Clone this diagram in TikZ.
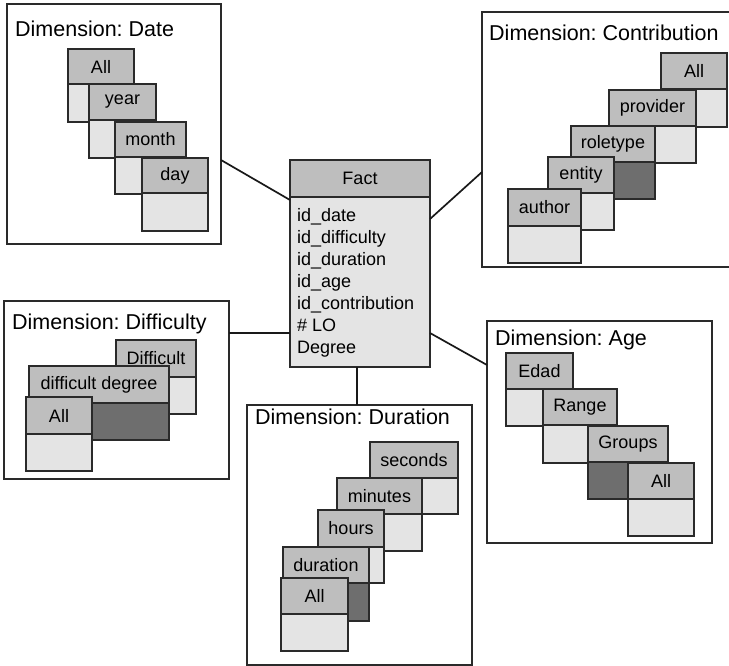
\documentclass[tikz,border=0pt]{standalone}
\usepackage{fontspec}
\setmainfont{Liberation Sans}
\usetikzlibrary{calc}
\frenchspacing
\definecolor{hdrgray}{HTML}{BEBEBE}
\definecolor{lightfill}{HTML}{E4E4E4}
\definecolor{darkfill}{HTML}{6E6E6E}
\definecolor{edgecol}{HTML}{2A2A2A}
\tikzset{
  hdrbox/.style={draw=edgecol, line width=1.2pt, fill=hdrgray, anchor=north west,
    inner sep=0pt, outer sep=0pt, font=\fontsize{18}{20}\selectfont},
  lightbody/.style={draw=edgecol, line width=1.2pt, fill=lightfill, anchor=north west,
    inner sep=0pt, outer sep=0pt},
  darkbody/.style={draw=edgecol, line width=1.2pt, fill=darkfill, anchor=north west,
    inner sep=0pt, outer sep=0pt},
  framebox/.style={draw=edgecol, line width=1.3pt, fill=white, anchor=north west,
    inner sep=0pt, outer sep=0pt},
  dimtitle/.style={anchor=base west, inner sep=0pt, font=\fontsize{21.5}{24}\selectfont},
  factline/.style={anchor=base west, inner sep=0pt, font=\fontsize{18}{20}\selectfont},
  connector/.style={draw=black!90, line width=1.7pt}
}
% #1 name, #2 x, #3 y, #4 width, #5 header height, #6 body height, #7 label, #8 body style
\newcommand{\dimtable}[8]{%
  \node[hdrbox, minimum width=#4pt, minimum height=#5pt] (#1) at (#2,#3) {#7};
  \node[#8, minimum width=#4pt, minimum height=#6pt] (#1b) at (#1.south west) {};}
\begin{document}
\begin{tikzpicture}[x=1pt, y=-1pt]
\useasboundingbox (0,0) rectangle (729,666);

% ---------- Frames ----------
\node[framebox, minimum width=214pt, minimum height=240pt] (dateF) at (7,4) {};
\node[framebox, minimum width=260pt, minimum height=255pt] (contF) at (482,12) {};
\node[framebox, minimum width=225pt, minimum height=178pt] (diffF) at (4,301) {};
\node[framebox, minimum width=225pt, minimum height=260pt] (durF) at (247,405) {};
\node[framebox, minimum width=225pt, minimum height=222pt] (ageF) at (487,321) {};

% ---------- Titles ----------
\node[dimtitle] (dateT) at (15,37) {Dimension: Date};
\node[dimtitle] (contT) at (489,40.5) {Dimension: Contribution};
\node[dimtitle] (diffT) at (12,329) {Dimension: Difficulty};
\node[dimtitle] (durT) at (255,424) {Dimension: Duration};
\node[dimtitle] (ageT) at (495,345) {Dimension: Age};

% ---------- Date ----------
\dimtable{dAll}{68}{49}{66}{35}{38}{All}{lightbody}
\dimtable{dYear}{89}{84}{67}{36}{38}{year}{lightbody}
\dimtable{dMonth}{115}{122}{71}{35}{37}{month}{lightbody}
\dimtable{dDay}{142}{158}{66}{35}{38}{day}{lightbody}

% ---------- Contribution ----------
\dimtable{cAll}{661}{53}{66}{36}{38}{All}{lightbody}
\dimtable{cProv}{609}{90}{87}{36}{37}{provider}{lightbody}
\dimtable{cRole}{571}{126}{84}{36}{37}{roletype}{darkbody}
\dimtable{cEnt}{548}{157}{66}{36}{37}{entity}{lightbody}
\dimtable{cAuth}{508}{189}{73}{37}{37}{author}{lightbody}

% ---------- Difficulty ----------
\dimtable{fDiff}{116}{340}{80}{37}{37}{Difficult}{lightbody}
\dimtable{fDeg}{29}{366}{140}{37}{37}{difficult degree}{darkbody}
\dimtable{fAll}{26}{397}{66}{37}{37}{All}{lightbody}

% ---------- Duration ----------
\dimtable{uSec}{370}{442}{88}{36}{36}{seconds}{lightbody}
\dimtable{uMin}{337}{478}{85}{36}{37}{minutes}{lightbody}
\dimtable{uHrs}{318}{510}{66}{37}{36}{hours}{lightbody}
\dimtable{uDur}{283}{547}{86}{36}{38}{duration}{darkbody}
\dimtable{uAll}{281}{578}{67}{36}{37}{All}{lightbody}

% ---------- Age ----------
\dimtable{aEdad}{506}{353}{67}{36}{37}{Edad}{lightbody}
\dimtable{aRange}{543}{389}{74}{36}{38}{Range}{lightbody}
\dimtable{aGroups}{588}{426}{80}{36}{37}{Groups}{darkbody}
\dimtable{aAll}{628}{463}{66}{36}{37}{All}{lightbody}

% ---------- Fact ----------
\node[hdrbox, minimum width=140pt, minimum height=37pt] (fact) at (290,160) {Fact};
\node[lightbody, minimum width=140pt, minimum height=170pt] (factb) at (fact.south west) {};
\node[factline] (f1) at (297,221.5) {id\_date};
\node[factline] (f2) at (297,243.5) {id\_difficulty};
\node[factline] (f3) at (297,265.5) {id\_duration};
\node[factline] (f4) at (297,287.5) {id\_age};
\node[factline] (f5) at (297,309.5) {id\_contribution};
\node[factline] (f6) at (297,331.5) {\# LO};
\node[factline] (f7) at (297,353.5) {Degree};

% ---------- Connectors ----------
\draw[connector] ($(dateF.north east)+(0,156)$) -- ($(fact.north west)+(0,40)$);
\draw[connector] ($(fact.north east)+(0,59)$) -- ($(contF.north west)+(0,160)$);
\draw[connector] ($(diffF.north east)+(0,32)$) -- ($(fact.north west)+(0,173)$);
\draw[connector] ($(fact.north east)+(0,173)$) -- ($(ageF.north west)+(0,44)$);
\draw[connector] ($(factb.south west)+(67,0)$) -- ($(durF.north west)+(110,0)$);
\end{tikzpicture}
\end{document}
